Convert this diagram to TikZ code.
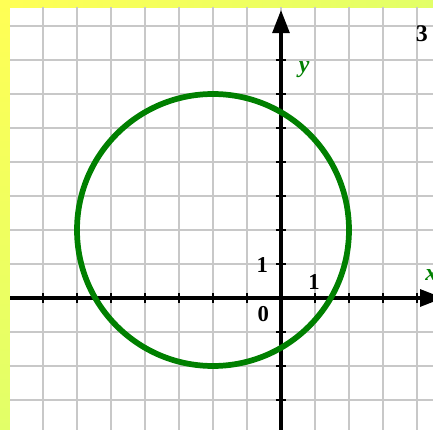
\documentclass[tikz,border=0pt]{standalone}
\usepackage{fontspec}
\setmainfont{Liberation Serif}
\usetikzlibrary{arrows.meta}
\definecolor{plotgreen}{RGB}{0,128,0}
\definecolor{gridgray}{RGB}{200,200,200}
\definecolor{frameyellow}{RGB}{255,255,85}
\definecolor{frameyellowb}{RGB}{226,255,104}

\begin{document}
\begin{tikzpicture}[x=1cm,y=1cm,
    gridline/.style={gridgray,line width=1.5pt},
    axisline/.style={line width=2.6pt,-{Triangle[length=0.68cm,width=0.5cm]}},
    tickmark/.style={line width=1pt},
    numlabel/.style={font=\fontsize{19}{19}\selectfont\bfseries,inner sep=0pt},
    varlabel/.style={font=\fontsize{20}{20}\selectfont\bfseries\itshape,text=plotgreen,inner sep=0pt}]
  % yellow frame on top and left, white sheet with the unit grid, axes and the circle (x+2)^2+(y-2)^2=16
  \useasboundingbox (-8.265,-3.882) rectangle (4.471,8.765);
  \shade[left color=frameyellow,right color=frameyellowb] (-8.265,8.53) rectangle (4.471,8.765);
  \shade[top color=frameyellow,bottom color=frameyellowb] (-8.265,-3.882) rectangle (-7.97,8.765);
  \fill[white] (-7.97,-3.882) rectangle (4.471,8.53);
  \begin{scope}
    \clip (-7.97,-3.882) rectangle (4.471,8.53);
    \foreach \i in {-8,...,4}
      \draw[gridline] (\i,-4) -- (\i,8.6);
    \foreach \j in {-3,...,8}
      \draw[gridline] (-8,\j) -- (4.6,\j);
    \coordinate (xstart) at (-8.3,0);
    \coordinate (xend) at (4.77,0);
    \coordinate (ystart) at (0,-3.9);
    \coordinate (yend) at (0,8.47);
    \draw[axisline] (xstart) -- (xend);
    \draw[axisline] (ystart) -- (yend);
    \foreach \i in {-7,...,-1,1,2,3,4}
      \draw[tickmark] (\i,-0.15) -- (\i,0.15);
    \foreach \j in {-3,...,-1,1,2,...,7}
      \draw[tickmark] (-0.15,\j) -- (0.15,\j);
    \coordinate (centre) at (-2,2);
    \draw[plotgreen,line width=4.8pt] (centre) circle (4);
    \node[varlabel] (xlab) at (4.42,0.68) {x};
  \end{scope}
  \node[varlabel] (ylab) at (0.68,6.71) {y};
  \node[numlabel] (onex) at (0.97,0.47) {1};
  \node[numlabel] (oney) at (-0.55,0.98) {1};
  \node[numlabel] (zero) at (-0.52,-0.47) {0};
  \node[numlabel,font=\fontsize{20}{20}\selectfont\bfseries] (three) at (4.14,7.78) {3};
\end{tikzpicture}
\end{document}
